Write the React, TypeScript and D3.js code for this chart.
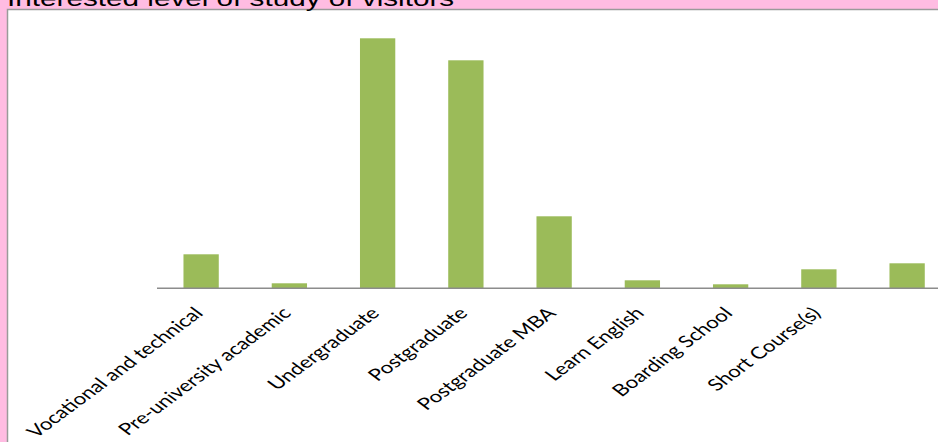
import React from "react";
import * as d3 from "d3";

const categories = [
  "Vocational and technical",
  "Pre-university academic",
  "Undergraduate",
  "Postgraduate",
  "Postgraduate MBA",
  "Learn English",
  "Boarding School",
  "Short Course(s)",
  "Other",
];
const values = [34, 5, 250, 228, 72, 8, 4, 19, 25];
const labelShown = [true, true, true, true, true, true, true, true, false];
const title = "Interested level of study of visitors";

const W = 938;
const H = 442;
const SX = 1.35;

export default function App() {
  const x = d3
    .scaleBand<string>()
    .domain(categories)
    .range([157, 157 + 88.25 * categories.length])
    .paddingInner(0.6)
    .paddingOuter(0.3);
  const y = d3.scaleLinear().domain([0, 250]).range([288.3, 38.3]);
  const axisY = y(0);

  return (
    <svg
      width={W}
      height={H}
      style={{ position: "absolute", left: 0, top: 0, display: "block" }}
    >
      <rect x={0} y={0} width={W} height={H} fill="#FFBCE2" />
      <rect
        x={7.5}
        y={9.5}
        width={W + 20}
        height={H + 20}
        fill="#ffffff"
        stroke="#9a9a9a"
        strokeWidth={1.5}
      />
      <text
        transform={`translate(7,5.5) scale(${SX},1)`}
        fontFamily="Liberation Sans, Arial, sans-serif"
        fontSize={22}
        fill="#000"
      >
        {title}
      </text>
      {categories.map((c, i) => (
        <rect
          key={c}
          x={x(c)!}
          y={y(values[i])}
          width={x.bandwidth()}
          height={axisY - y(values[i])}
          fill="#9BBB59"
        />
      ))}
      <line
        x1={157}
        x2={W}
        y1={axisY}
        y2={axisY}
        stroke="#8c8c8c"
        strokeWidth={1.5}
      />
      {categories.map((c, i) =>
        labelShown[i] ? (
          <text
            key={"l" + c}
            transform={`translate(${x(c)! + x.bandwidth() / 2 + 3},${axisY + 26}) scale(${SX},1) rotate(-45)`}
            textAnchor="end"
            fontFamily="Lato, Open Sans, sans-serif"
            fontSize={16.5}
            fill="#000"
          >
            {c}
          </text>
        ) : null
      )}
    </svg>
  );
}
